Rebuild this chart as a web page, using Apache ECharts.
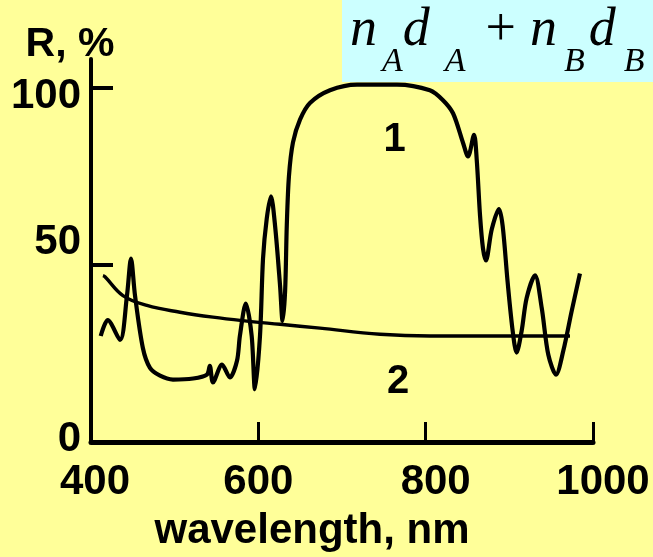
<!DOCTYPE html>
<html>
<head>
<meta charset="utf-8">
<script src="https://cdn.jsdelivr.net/npm/echarts@6/dist/echarts.min.js"></script>
<style>
  html, body { margin: 0; padding: 0; background: #FFFF99; }
  #chart { width: 653px; height: 557px; }
</style>
</head>
<body>
<div id="chart"></div>
<script>
// Reflectance spectrum of a multilayer stack (curve 1) and of a single layer (curve 2)
const curve1 = [
  [411.6, 29.9], [420, 34.4], [434.7, 28.8], [443, 41.3], [447.8, 51.7], [452.6, 41.3],
  [462, 26.5], [470.5, 20.9], [482.5, 18.7], [498, 17.6], [522, 17.9], [538.6, 19.0],
  [542, 21.5], [545.8, 16.8], [556.6, 21.8], [566, 18.2], [574.5, 22.9], [578, 30],
  [585, 39], [592, 30], [596, 14.9], [602, 30], [605.6, 51.7], [610, 62.9], [615.1, 69.3],
  [620, 61], [626, 44], [629, 34.1], [632, 42.5], [634, 61], [636.6, 75], [641.4, 84.5],
  [649.8, 90.9], [661.7, 95.6], [685.6, 99.2], [718, 100.8], [765.7, 100.8], [805, 99.2],
  [820.7, 96.4], [832.7, 92.7], [844.6, 84.4], [850.6, 80.5], [857.8, 86.6], [861, 79.7],
  [865, 63.8], [868.5, 54.6], [872, 51.2], [879, 60], [887.6, 65.7], [892, 61], [898, 45],
  [904, 31.3], [908.7, 25.2], [914.7, 31.3], [920.7, 40.6], [930.7, 47], [938.7, 37.8],
  [946.6, 24.6], [955.8, 19], [964.5, 25.7], [974.5, 36.9], [984.4, 47.5]
];
const curve2 = [
  [414.3, 46.9], [416.7, 46.6], [438.2, 41.3], [466.9, 38.5], [506.4, 36.6], [545.8, 35.2],
  [586.4, 34.1], [625.9, 33.2], [673.7, 32.1], [745.4, 30.4], [805.2, 29.9], [885.2, 29.9],
  [972.5, 29.9]
];
const curveNames = ['1', '2'];
const curveLabelAt = [[763, 85.3], [767, 16.8]];
const xTicks = [400, 600, 800, 1000];
const yTicks = [0, 50, 100];

const FONT = 'Liberation Sans';
const SERIF = 'Liberation Serif';

const chart = echarts.init(document.getElementById('chart'), null, { renderer: 'canvas' });

const xShift = { 400: 8, 600: 0, 800: 20, 1000: 20 };
const yPad = { 0: [0, 0, 6, 0], 50: [0, 0, 44, 0], 100: [18, 0, 0, 0] };

const xRich = {};
xTicks.forEach(v => {
  xRich['x' + v] = { fontFamily: FONT, fontWeight: 'bold', fontSize: 42, color: '#000', padding: [0, 0, 0, xShift[v]] };
});
const yRich = {};
yTicks.forEach(v => {
  yRich['y' + v] = { fontFamily: FONT, fontWeight: 'bold', fontSize: 42, color: '#000', padding: yPad[v] };
});

// formula n_A d_A + n_B d_B: main letters on top, subscripts dropped below the baseline
function mainTok(padLeft) {
  return { fontFamily: SERIF, fontStyle: 'italic', fontWeight: 'normal', fontSize: 54, lineHeight: 56,
           verticalAlign: 'top', color: '#000', padding: [4, 0, 0, padLeft] };
}
function subTok(padLeft) {
  return { fontFamily: SERIF, fontStyle: 'italic', fontWeight: 'normal', fontSize: 34, lineHeight: 34,
           verticalAlign: 'top', color: '#000', padding: [45, 0, 0, padLeft] };
}

function markLabel(i) {
  return {
    symbol: 'circle',
    symbolSize: 1,
    itemStyle: { color: 'rgba(0,0,0,0)' },
    label: {
      show: true, position: 'inside', formatter: curveNames[i],
      fontFamily: FONT, fontWeight: 'bold', fontSize: 40, color: '#000'
    },
    data: [{ coord: curveLabelAt[i] }]
  };
}

chart.setOption({
  backgroundColor: '#FFFF99',
  animation: false,
  title: {
    left: 342,
    top: 0,
    padding: [0, 40, 3, 8],
    backgroundColor: '#CCFFFF',
    text: '{n1|n}{a1|A}{d1|d}{a2|A}{p|+}{n2|n}{b1|B}{d2|d}{b2|B}',
    textStyle: {
      fontWeight: 'normal',
      rich: {
        n1: mainTok(0),
        a1: subTok(5),
        d1: mainTok(0),
        a2: subTok(15),
        p: { fontFamily: SERIF, fontWeight: 'normal', fontSize: 54, lineHeight: 56, verticalAlign: 'top',
             color: '#000', padding: [4, 14, 0, 20] },
        n2: mainTok(0),
        b1: subTok(7),
        d2: mainTok(4),
        b2: subTok(8)
      }
    }
  },
  grid: { left: 91, right: 60, top: 59, bottom: 112, containLabel: false },
  xAxis: {
    type: 'value',
    min: 400,
    max: 1000,
    interval: 200,
    name: 'wavelength, nm',
    nameLocation: 'middle',
    nameGap: 68,
    nameTextStyle: { fontFamily: FONT, fontWeight: 'bold', fontSize: 42, color: '#000', padding: [0, 60, 0, 0] },
    axisLine: { show: true, lineStyle: { color: '#000', width: 5 } },
    axisTick: { show: true, inside: true, length: 20, lineStyle: { color: '#000', width: 3 } },
    axisLabel: {
      margin: 19,
      formatter: v => '{x' + v + '|' + v + '}',
      rich: xRich
    },
    splitLine: { show: false }
  },
  yAxis: {
    type: 'value',
    min: 0,
    max: 108,
    name: 'R, %',
    nameLocation: 'end',
    nameGap: -6,
    nameTextStyle: { fontFamily: FONT, fontWeight: 'bold', fontSize: 41, color: '#000', padding: [0, 42, 0, 0] },
    axisLine: { show: true, lineStyle: { color: '#000', width: 4 } },
    axisTick: { show: true, inside: true, length: 22, customValues: yTicks, lineStyle: { color: '#000', width: 4 } },
    axisLabel: {
      margin: 10,
      customValues: yTicks,
      formatter: v => '{y' + v + '|' + v + '}',
      rich: yRich
    },
    splitLine: { show: false }
  },
  series: [
    {
      name: curveNames[0],
      type: 'line',
      data: curve1,
      showSymbol: false,
      smooth: 0.3,
      lineStyle: { color: '#000', width: 4.2 },
      markPoint: markLabel(0)
    },
    {
      name: curveNames[1],
      type: 'line',
      data: curve2,
      showSymbol: false,
      smooth: 0.4,
      lineStyle: { color: '#000', width: 3.4 },
      markPoint: markLabel(1)
    }
  ]
});
</script>
</body>
</html>
